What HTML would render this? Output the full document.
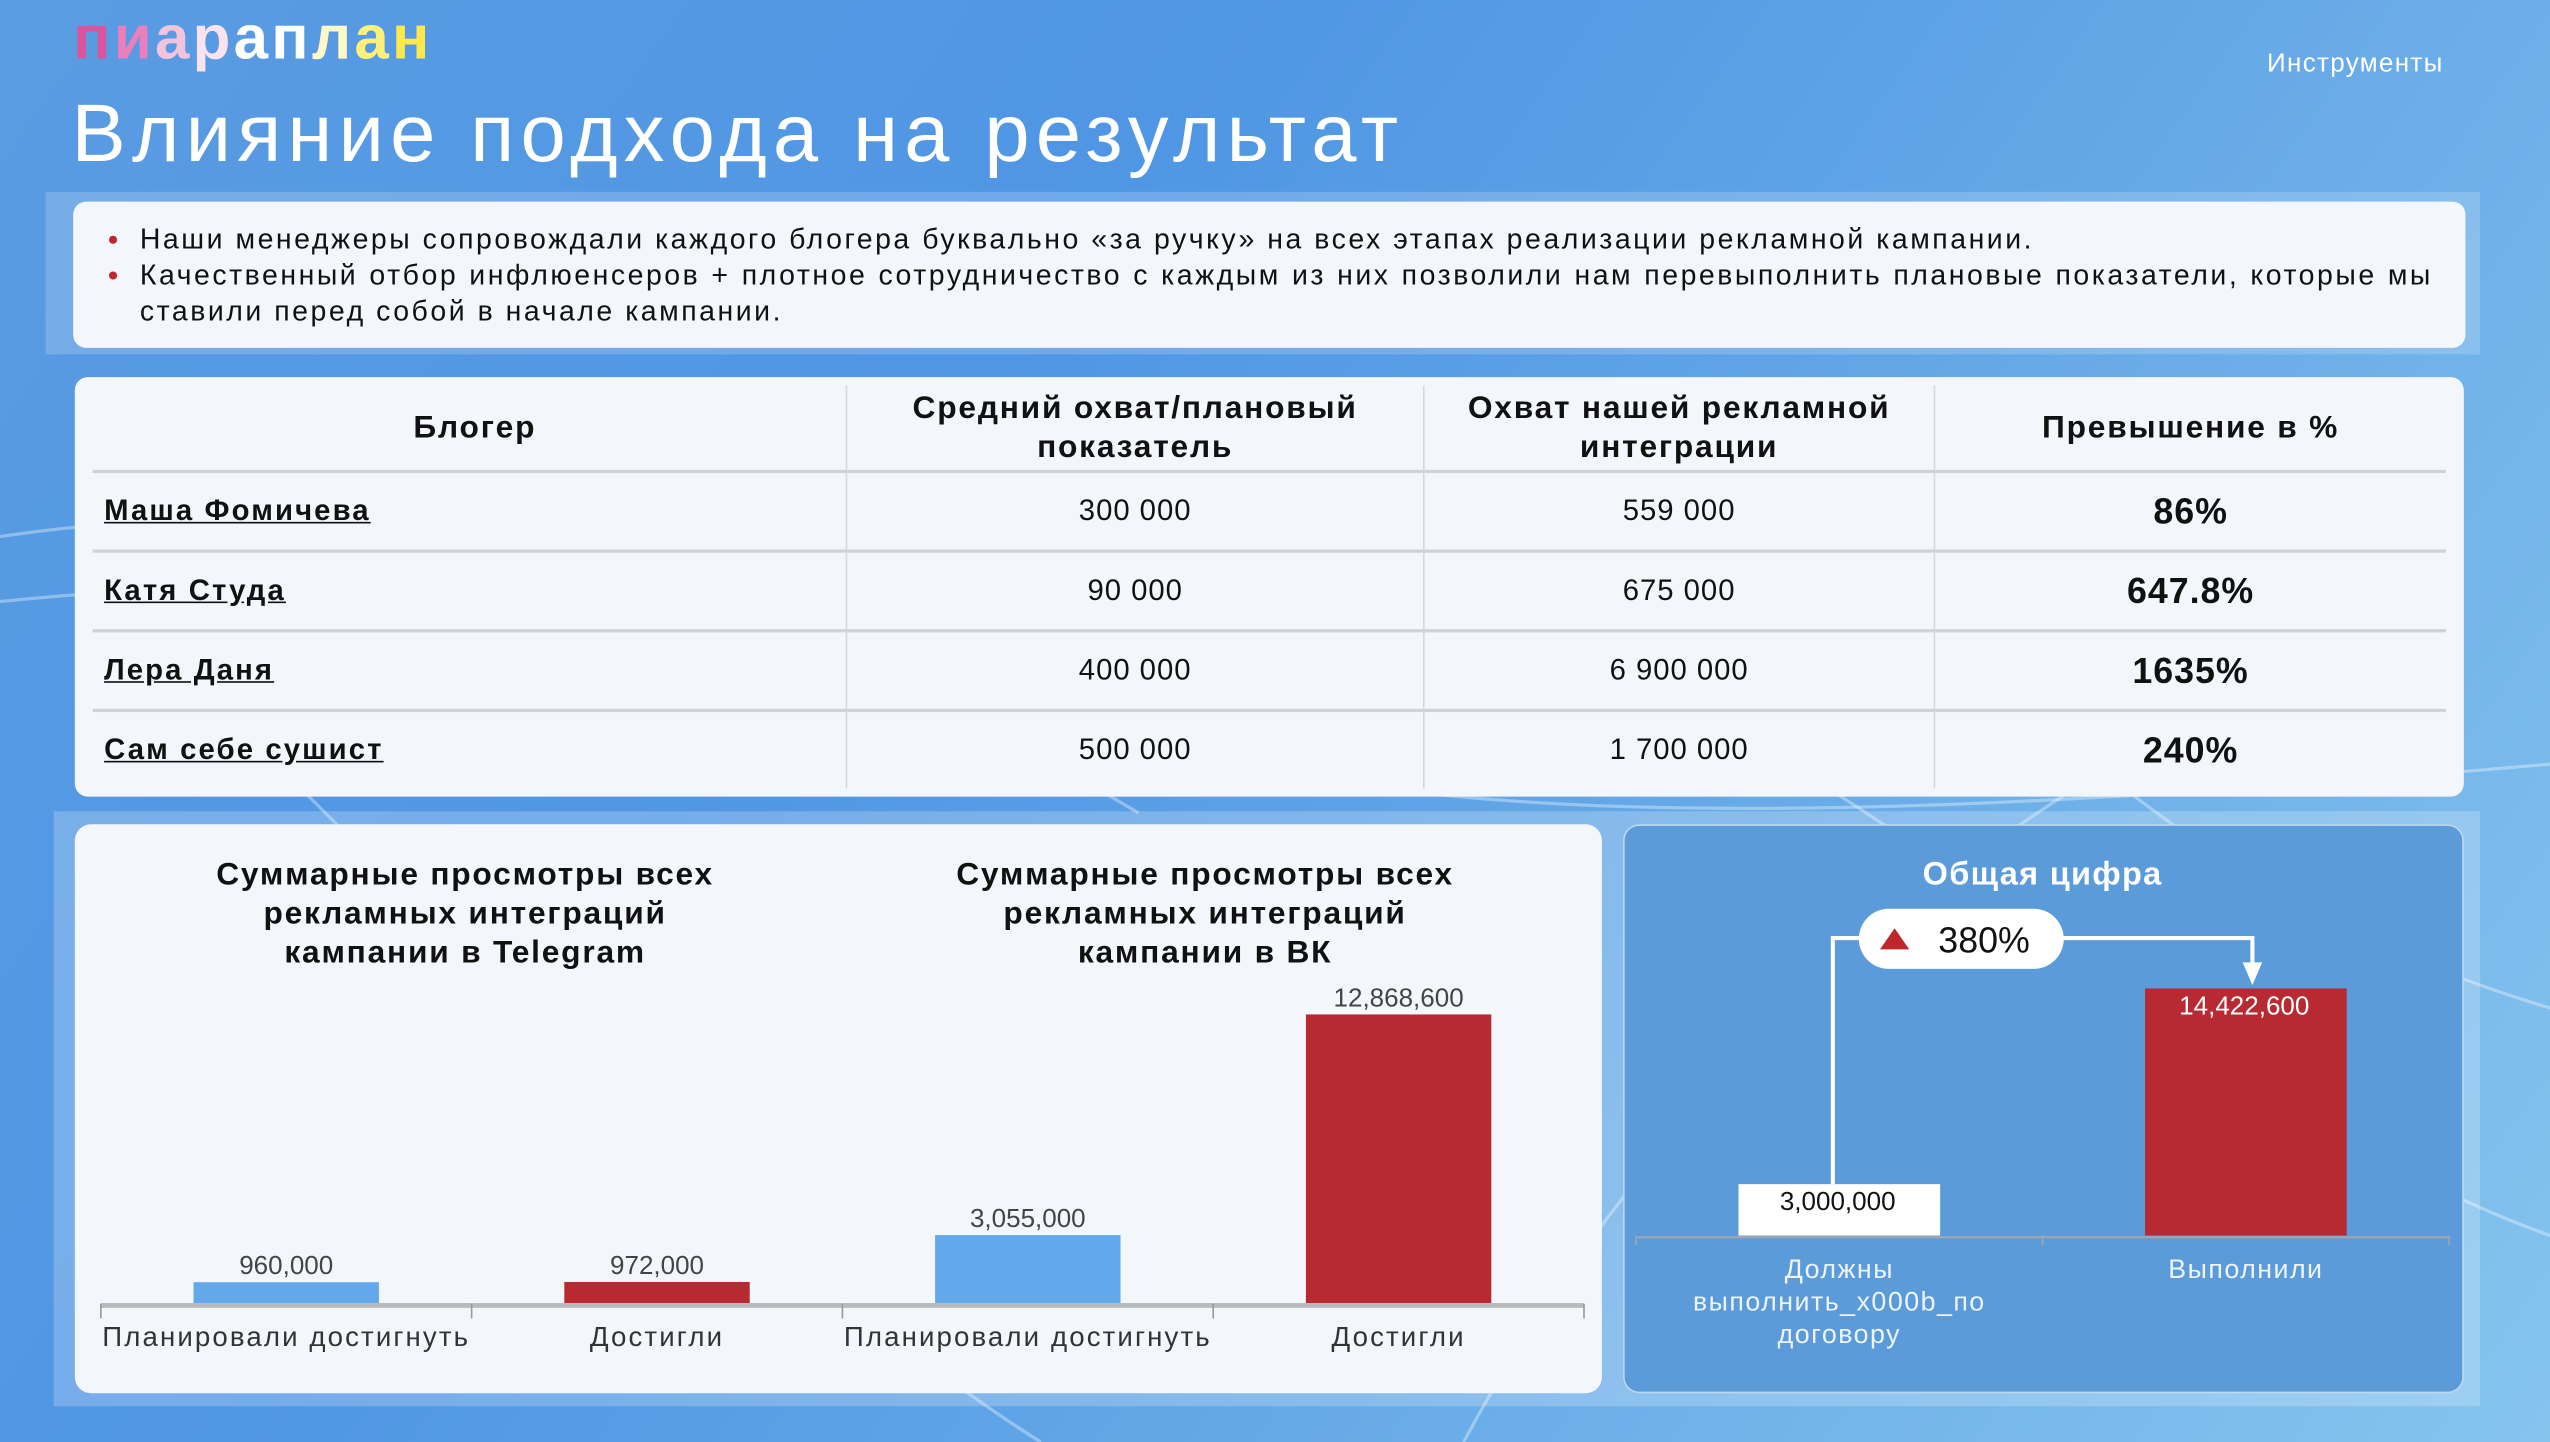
<!DOCTYPE html>
<html><head><meta charset="utf-8">
<style>
html,body{margin:0;padding:0;width:2550px;height:1442px;overflow:hidden;background:#5a9be2;}
#stage{position:absolute;left:0;top:0;width:1568px;height:887px;transform:scale(1.62628,1.62571);transform-origin:0 0;
background:linear-gradient(125deg,#5a9ce2 0%,#4f96e4 35%,#62a6e6 60%,#86c4ee 100%);font-family:"Liberation Sans","DejaVu Sans",sans-serif;overflow:hidden;}
.abs{position:absolute;}
.logo{left:45px;top:3px;font-size:38px;font-weight:bold;letter-spacing:2px;}
.title{left:44px;top:53px;font-size:50px;color:#fff;letter-spacing:3.8px;}
.tools{left:1394px;top:31px;font-size:16px;color:#fff;letter-spacing:0.8px;}
.band{left:28px;top:118px;width:1497px;height:100px;background:rgba(255,255,255,0.18);}
.textbox{left:45px;top:124px;width:1471px;height:90px;background:#f3f7fc;border-radius:8px;box-sizing:border-box;padding:12px 20px 0 41px;font-size:17.5px;color:#111;line-height:22px;letter-spacing:1.55px;}
.textbox li{margin:0;text-align:justify;}
.textbox ul{margin:0;padding:0;list-style:none;}
.textbox li{position:relative;}
.textbox li:before{content:"";position:absolute;left:-19px;top:9px;width:5px;height:5px;border-radius:50%;background:#c0272d;}
.tbl{left:46px;top:232px;width:1469px;height:258px;background:#f3f7fc;border-radius:8px;}
table{position:absolute;left:11px;top:5px;width:1447px;border-collapse:collapse;font-size:18px;color:#111;letter-spacing:0.6px;}
td,th{border-left:1px solid #d6d9dc;text-align:center;padding:0;}
td:first-child,th:first-child{border-left:none;text-align:left;padding-left:7px;}
th{height:52px;font-weight:bold;font-size:19.5px;line-height:24px;border-bottom:2px solid #d0d3d6;letter-spacing:1.1px;}
th:first-child{text-align:center;}
td{height:47px;border-bottom:2px solid #d0d3d6;}
tr:last-child td{border-bottom:none;}
td.name{font-weight:bold;text-decoration:underline;letter-spacing:1.3px;}
td.pct{font-weight:bold;font-size:22px;}
.lp{left:46px;top:507px;width:939px;height:350px;background:#f3f7fc;border-radius:10px;}
.rp{left:998px;top:507px;width:517px;height:350px;background:#5b9bd9;border-radius:10px;border:1px solid rgba(255,255,255,0.6);box-sizing:border-box;}
.outer{left:33px;top:499px;width:1492px;height:366px;background:rgba(255,255,255,0.22);}
</style></head><body>
<div id="stage">
<svg class="abs" style="left:0;top:0" width="1568" height="887">
<g fill="none" stroke="rgba(255,255,255,0.35)" stroke-width="2">
<path d="M0 330 C200 300 400 340 600 420 S1000 520 1568 470"/>
<path d="M0 370 C300 340 500 380 700 500"/>
<path d="M180 480 C300 600 500 800 640 887"/>
<path d="M1100 470 C1250 560 1400 700 1568 760"/>
<path d="M1300 480 C1400 560 1500 600 1568 620"/>
<path d="M900 887 C1000 700 1150 560 1300 470"/>
</g></svg>
<div class="abs logo"><span style="color:#d9559e">п</span><span style="color:#e97fbd">и</span><span style="color:#f3c3dc">а</span><span style="color:#fbe3ee">р</span><span style="color:#fff">а</span><span style="color:#fff">п</span><span style="color:#fff8c8">л</span><span style="color:#fff07a">а</span><span style="color:#ffe94a">н</span></div>
<div class="abs tools">Инструменты</div>
<div class="abs title">Влияние подхода на результат</div>
<div class="abs band"></div>
<div class="abs textbox"><ul>
<li>Наши менеджеры сопровождали каждого блогера буквально «за ручку» на всех этапах реализации рекламной кампании.</li>
<li>Качественный отбор инфлюенсеров + плотное сотрудничество с каждым из них позволили нам перевыполнить плановые показатели, которые мы ставили перед собой в начале кампании.</li></ul></div>
<div class="abs tbl">
<table>
<tr><th style="width:456px">Блогер</th><th style="width:354px">Средний охват/плановый<br>показатель</th><th style="width:313px">Охват нашей рекламной<br>интеграции</th><th>Превышение в %</th></tr>
<tr><td class="name">Маша Фомичева</td><td>300 000</td><td>559 000</td><td class="pct">86%</td></tr>
<tr><td class="name">Катя Студа</td><td>90 000</td><td>675 000</td><td class="pct">647.8%</td></tr>
<tr><td class="name">Лера Даня</td><td>400 000</td><td>6 900 000</td><td class="pct">1635%</td></tr>
<tr><td class="name">Сам себе сушист</td><td>500 000</td><td>1 700 000</td><td class="pct">240%</td></tr>
</table></div>
<div class="abs outer"></div>
<div class="abs lp"></div>
<div class="abs rp"></div>
<svg id="charts" class="abs" style="left:0;top:0" width="1568" height="887"></svg>
</div>
<script>
const barCategories = ["Планировали достигнуть","Достигли","Планировали достигнуть","Достигли"];
const barValues = [960000, 972000, 3055000, 12868600];
const barLabels = ["960,000","972,000","3,055,000","12,868,600"];
const totalCategories = ["Должны|выполнить_x000b_по|договору","Выполнили"];
const totalValues = [3000000, 14422600];
const totalLabels = ["3,000,000","14,422,600"];
const growthLabel = "380%";

const NS="http://www.w3.org/2000/svg";
const svg=document.getElementById('charts');
function mk(tag,attrs,parent){const e=document.createElementNS(NS,tag);for(const k in attrs)e.setAttribute(k,attrs[k]);(parent||svg).appendChild(e);return e;}
function txt(x,y,s,attrs){const t=mk('text',Object.assign({x:x,y:y,'text-anchor':'middle','font-family':'Liberation Sans, DejaVu Sans, sans-serif'},attrs));t.textContent=s;return t;}

// left chart
const base=802, x0=62, x1=974, maxV=12868600, maxH=178;
const yL=v=>base-v/maxV*maxH;
const slot=(x1-x0)/barCategories.length;
const xL=i=>x0+slot*(i+0.5);
const colors=["#62a8ea","#b72a32","#62a8ea","#b72a32"];
[["Суммарные просмотры всех","рекламных интеграций","кампании в Telegram",286],["Суммарные просмотры всех","рекламных интеграций","кампании в ВК",741]].forEach((t,k)=>{
  for(let j=0;j<3;j++){const e=txt(t[3],544+j*24,t[j],{'font-size':19.5,'font-weight':'bold',fill:'#111','letter-spacing':1.1});
  
  }
});
barValues.forEach((v,i)=>{
  const r=mk('rect',{x:xL(i)-57,y:yL(v),width:114,height:base-yL(v),fill:colors[i]});
  
  
  const l=txt(xL(i),yL(v)-5,barLabels[i],{'font-size':16,fill:'#444'});
  
  
  const c=txt(xL(i),828,barCategories[i],{'font-size':17,fill:'#333','letter-spacing':1.3});
  
  
});
const ax=mk('line',{x1:x0,y1:base+1,x2:x1,y2:base+1,stroke:'#b8babd','stroke-width':3});


for(let i=0;i<=barCategories.length;i++)mk('line',{x1:x0+slot*i,y1:base,x2:x0+slot*i,y2:base+9,stroke:'#999','stroke-width':1});

// right chart
const b2=760, a0=1006, a1=1506, tMax=14422600, tH=152;
const yR=v=>b2-v/tMax*tH;
const s2=(a1-a0)/totalCategories.length;
const xR=i=>a0+s2*(i+0.5);
const tColors=["#ffffff","#b72a32"];
const tt=txt(1256,544,"Общая цифра",{'font-size':20,'font-weight':'bold',fill:'#fff','letter-spacing':0.8});


totalValues.forEach((v,i)=>{
  const r=mk('rect',{x:xR(i)-62,y:yR(v),width:124,height:b2-yR(v),fill:tColors[i]});
  
  
  const l=txt(xR(i)-1,yR(v)+16,totalLabels[i],{'font-size':16,fill:i?'#fff':'#111'});
  
  
  totalCategories[i].split('|').forEach((s,j)=>{
    const c=txt(xR(i),786+j*20,s,{'font-size':16.5,fill:'#eef4fb','letter-spacing':0.9});
    
    
  });
});
mk('line',{x1:a0,y1:b2+1,x2:a1,y2:b2+1,stroke:'#9aa6b4','stroke-width':1.5});
for(let i=0;i<=totalCategories.length;i++)mk('line',{x1:a0+s2*i,y1:b2,x2:a0+s2*i,y2:b2+6,stroke:'#9aa6b4','stroke-width':1});
// connector
const cy=577, lx=xR(0)-4, rx=xR(1)+4;
mk('polyline',{points:`${lx},${yR(totalValues[0])} ${lx},${cy} ${rx},${cy} ${rx},${yR(totalValues[1])-14}`,fill:'none',stroke:'#fff','stroke-width':2.5});
mk('polygon',{points:`${rx-6},${yR(totalValues[1])-16} ${rx+6},${yR(totalValues[1])-16} ${rx},${yR(totalValues[1])-2}`,fill:'#fff'});
const pill=mk('rect',{x:1143,y:559,width:126,height:37,rx:18.5,fill:'#fff'});


mk('polygon',{points:"1156,584 1174,584 1165,571",fill:'#c0272d'});
const g=txt(1220,586,growthLabel,{'font-size':22,fill:'#111'});


</script>
</body></html>
